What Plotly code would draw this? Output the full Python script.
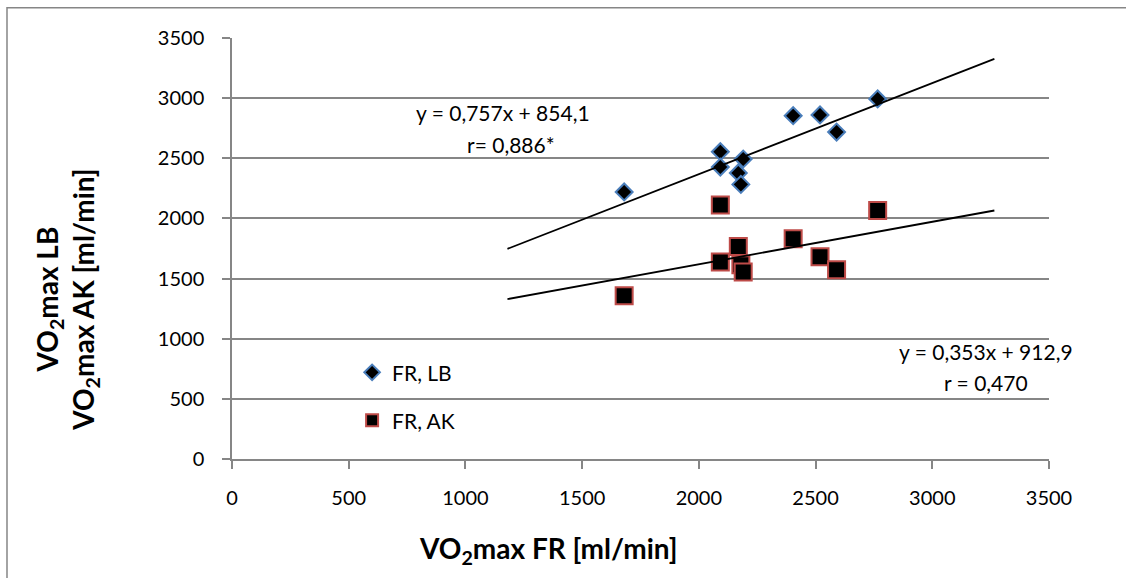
import plotly.graph_objects as go

# Data
fr = [1680, 2092, 2092, 2169, 2180, 2190, 2404, 2519, 2590, 2766]
lb = [2220, 2555, 2427, 2378, 2283, 2494, 2854, 2860, 2718, 2993]
ak = [1358, 2112, 1638, 1767, 1615, 1555, 1831, 1682, 1574, 2065]

# Trendline coefficients (from the chart labels)
lb_slope, lb_icpt = 0.757, 854.1
ak_slope, ak_icpt = 0.353, 912.9
trend_x = [1180, 3266]

tick_vals = [0, 500, 1000, 1500, 2000, 2500, 3000, 3500]

FONT = "Lato, 'Open Sans', sans-serif"
GRID = "#868686"

fig = go.Figure()
fig.add_trace(go.Scatter(
    x=fr, y=lb, mode="markers", name="FR, LB", legend="legend",
    marker=dict(symbol="diamond", size=13, color="black",
                line=dict(color="#4A7EBB", width=2)),
))
fig.add_trace(go.Scatter(
    x=fr, y=ak, mode="markers", name="FR, AK", legend="legend2",
    marker=dict(symbol="square", size=17, color="black",
                line=dict(color="#BE4B48", width=2)),
))
fig.add_trace(go.Scatter(
    x=trend_x, y=[lb_slope * v + lb_icpt for v in trend_x], mode="lines",
    line=dict(color="black", width=1.8), showlegend=False, hoverinfo="skip",
))
fig.add_trace(go.Scatter(
    x=trend_x, y=[ak_slope * v + ak_icpt for v in trend_x], mode="lines",
    line=dict(color="black", width=1.8), showlegend=False, hoverinfo="skip",
))

ann_font = dict(family=FONT, size=21, color="black")
annotations = [
    dict(x=1160, y=2879, text="y = 0,757x + 854,1"),
    dict(x=1195, y=2613, text="r= 0,886*"),
    dict(x=3232, y=892, text="y = 0,353x + 912,9"),
    dict(x=3232, y=636, text="r = 0,470"),
]
for a in annotations:
    fig.add_annotation(xref="x", yref="y", showarrow=False, font=ann_font,
                       xanchor="center", yanchor="middle", **a)

# Axis titles (placed where the reference has them)
title_font = dict(family=FONT, size=28, color="black")
fig.add_annotation(xref="paper", yref="paper", x=0.388, y=-0.215,
                   text="<b>VO<sub>2</sub>max FR [ml/min]</b>", showarrow=False,
                   font=title_font, xanchor="center", yanchor="middle")
fig.add_annotation(xref="paper", yref="paper", x=-0.202, y=0.378,
                   text="<b>VO<sub>2</sub>max LB<br>VO<sub>2</sub>max AK [ml/min]</b>",
                   showarrow=False, textangle=-90, font=title_font,
                   xanchor="center", yanchor="middle")

fig.add_shape(type="rect", xref="paper", yref="paper",
              x0=-0.2754, x1=1.2, y0=-0.4, y1=1.072,
              line=dict(color=GRID, width=1.5), layer="below")

fig.update_layout(
    width=1126, height=578,
    margin=dict(l=232, r=77, t=38, b=119),
    paper_bgcolor="white", plot_bgcolor="white",
    font=dict(family=FONT, size=20, color="black"),
    legend=dict(x=0.147, y=0.205, xanchor="left", yanchor="middle",
                bgcolor="rgba(0,0,0,0)", font=dict(size=21),
                itemsizing="constant"),
    legend2=dict(x=0.147, y=0.091, xanchor="left", yanchor="middle",
                 bgcolor="rgba(0,0,0,0)", font=dict(size=21),
                 itemsizing="constant"),
    xaxis=dict(
        range=[0, 3500], tickvals=tick_vals, showgrid=False, zeroline=False,
        showline=True, linecolor=GRID, linewidth=1.5,
        ticks="outside", ticklen=8, tickcolor=GRID, tickwidth=1.5,
        ticklabelstandoff=12,
    ),
    yaxis=dict(
        range=[0, 3500], tickvals=tick_vals, showgrid=True, gridcolor=GRID,
        gridwidth=1.5, zeroline=False,
        showline=True, linecolor=GRID, linewidth=1.5,
        ticks="outside", ticklen=8, tickcolor=GRID, tickwidth=1.5,
        ticklabelstandoff=14,
    ),
)

fig.write_html("out.html")
